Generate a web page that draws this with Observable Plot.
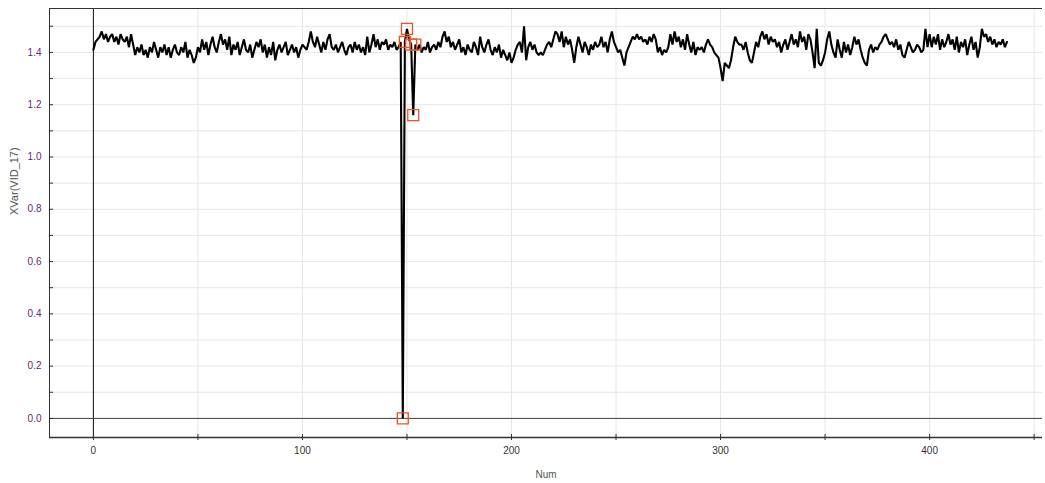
<!DOCTYPE html>
<html>
<head>
<meta charset="utf-8">
<script src="https://cdn.jsdelivr.net/npm/d3@7"></script>
<script src="https://cdn.jsdelivr.net/npm/@observablehq/plot@0.6"></script>
<style>
  html, body { margin: 0; padding: 0; background: #fff; }
  #chart svg { display: block; }
</style>
</head>
<body>
<div id="chart"></div>
<script>
// XVar(VID_17) values, index = Num (0..437)
const segA = [1.41,1.44,1.45,1.46,1.48,1.45,1.47,1.44,1.46,1.47,1.44,1.46,1.43,1.47,1.45,1.44,1.46,1.42,1.47,1.43];
const segB = [1.39,1.42,1.40,1.43,1.39,1.41,1.38,1.42,1.40,1.44,1.41,1.38,1.42,1.40,1.43,1.39,1.42,1.38,1.41,1.43,1.40,1.39,1.42,1.40,1.44,1.38,1.41,1.39,1.36,1.38,1.42];
const segC = [1.40,1.45,1.41,1.44,1.39,1.43,1.46,1.42,1.40,1.44,1.47,1.43,1.45,1.41,1.46,1.39,1.43,1.41];
const segD = [1.44,1.39,1.42,1.45,1.41,1.40,1.43,1.38,1.41,1.44,1.42,1.45,1.40,1.43,1.38,1.42,1.39,1.44,1.37,1.41,1.43,1.40,1.42,1.44,1.39,1.41,1.43,1.40,1.42,1.38];
const segE = [1.41,1.43,1.42,1.41,1.44,1.48,1.44,1.42,1.46,1.43,1.40,1.44,1.41,1.45,1.47,1.42];
const segF = [1.41,1.43,1.40,1.42,1.44,1.41,1.39,1.42,1.43,1.40,1.44,1.41,1.43,1.40,1.42,1.39,1.46,1.40,1.43,1.47,1.42,1.45,1.41,1.44];
const segG = [1.43,1.45,1.41,1.43,1.42,1.44,1.41,1.42,1.44];
const segSpike = [0.00,1.44,1.49,1.45,1.43,1.16,1.43];
const segH = [1.41,1.43,1.40,1.42,1.41,1.44,1.40,1.42,1.43,1.41,1.44,1.42,1.46,1.48,1.44];
const segI = [1.46,1.42,1.44,1.41,1.43,1.45,1.40,1.42,1.39,1.43,1.41,1.40,1.44,1.42,1.39];
const segJ = [1.46,1.42,1.40,1.43,1.45,1.41,1.39,1.42,1.40,1.43,1.38,1.41,1.39,1.37,1.40,1.36,1.38];
const segK = [1.41,1.43,1.44,1.40,1.50,1.37,1.42,1.44,1.41,1.43,1.40,1.39,1.40,1.39,1.41,1.43,1.44,1.42];
const segL = [1.45,1.48,1.47,1.44,1.48,1.42,1.46,1.43,1.45,1.41,1.36,1.42,1.46,1.43,1.40,1.44,1.42,1.39,1.43,1.41,1.44,1.42];
const segM = [1.43,1.46,1.42,1.44,1.40,1.45,1.48,1.44,1.42,1.40,1.41,1.38,1.35,1.40,1.42];
const segN = [1.44,1.46,1.45,1.47,1.45,1.46,1.44,1.45,1.43,1.46,1.44,1.47,1.45,1.40,1.42,1.39,1.41,1.40,1.42];
const segO = [1.47,1.43,1.48,1.44,1.46,1.42,1.45,1.41,1.47,1.43,1.40,1.44,1.39,1.42,1.41];
const segP = [1.42,1.40,1.43,1.45,1.43,1.42,1.40,1.39,1.38,1.34,1.29,1.36,1.35,1.34,1.37,1.42,1.46,1.44,1.43,1.43,1.41,1.44,1.40,1.37,1.36];
const segQ = [1.40,1.44,1.42,1.46,1.48,1.45,1.47,1.43,1.46,1.44,1.45,1.42,1.44,1.40,1.43,1.45,1.41,1.44];
const segR = [1.47,1.43,1.45,1.42,1.48,1.44,1.46,1.41,1.47,1.45,1.40,1.34,1.49,1.36,1.35,1.37,1.40];
const segS = [1.45,1.48,1.43,1.40,1.38,1.45,1.41,1.38,1.44,1.40,1.43,1.39,1.42,1.46,1.43,1.45,1.41,1.38,1.36];
const segT = [1.35,1.41,1.43,1.40,1.42,1.41,1.43,1.44,1.46,1.47,1.45,1.43,1.44,1.42,1.45,1.41,1.43,1.39,1.38,1.41];
const segU = [1.44,1.42,1.40,1.41,1.43,1.42,1.40,1.41,1.49,1.42,1.47,1.42,1.46,1.43,1.47,1.41,1.45,1.42,1.44];
const segV = [1.47,1.43,1.45,1.41,1.46,1.40,1.44,1.42,1.45,1.39,1.43,1.46,1.41,1.44,1.38,1.42];
const segW = [1.49,1.46,1.47,1.44,1.46,1.43,1.45,1.42,1.44,1.43,1.45,1.42,1.44];

const xvar = [].concat(segA, segB, segC, segD, segE, segF, segG, segSpike, segH, segI, segJ,
  segK, segL, segM, segN, segO, segP, segQ, segR, segS, segT, segU, segV, segW);

// highlighted (outlier) points
const markerNums = [148, 149, 150, 152, 153, 154];

// axes
const xTitle = "Num";
const yTitle = "XVar(VID_17)";
const xDomain = [-21, 454];
const yDomain = [-0.073, 1.568];
const xTickMarks = [0, 50, 100, 150, 200, 250, 300, 350, 400, 450];
const xTickLabels = [0, 100, 200, 300, 400];
const yTickMarks = [0, 0.1, 0.2, 0.3, 0.4, 0.5, 0.6, 0.7, 0.8, 0.9, 1.0, 1.1, 1.2, 1.3, 1.4, 1.5];
const yTickLabels = [0, 0.2, 0.4, 0.6, 0.8, 1.0, 1.2, 1.4];

const data = xvar.map((v, i) => ({num: i, value: v}));
const markers = markerNums.map(n => ({num: n, value: xvar[n]}));

const W = 1045, H = 483;
const mL = 49, mR = 3, mT = 8, mB = 46;
const xPerPx = (xDomain[1] - xDomain[0]) / (W - mL - mR);
const yPerPx = (yDomain[1] - yDomain[0]) / (H - mT - mB);

const chart = Plot.plot({
  width: W,
  height: H,
  marginLeft: mL,
  marginRight: mR,
  marginTop: mT,
  marginBottom: mB,
  style: {fontFamily: "'Liberation Sans', Arial, sans-serif", fontSize: "10px", background: "#fff", color: "#333"},
  x: {domain: xDomain, label: null},
  y: {domain: yDomain, label: null},
  marks: [
    Plot.gridX(xTickMarks, {stroke: "#e6e6e6", strokeOpacity: 1}),
    Plot.gridY(yTickMarks, {stroke: "#e6e6e6", strokeOpacity: 1}),
    // zero lines
    Plot.ruleX([0], {stroke: "#111", strokeWidth: 1}),
    Plot.ruleY([0], {stroke: "#444", strokeWidth: 1}),
    // frame: left, top, bottom
    Plot.ruleX([xDomain[0]], {stroke: "#333", strokeWidth: 1}),
    Plot.ruleY([yDomain[1]], {stroke: "#333", strokeWidth: 1}),
    Plot.ruleY([yDomain[0]], {stroke: "#333", strokeWidth: 1.5}),
    // tick marks
    Plot.ruleY(yTickMarks, {x1: xDomain[0], x2: xDomain[0] + 4 * xPerPx, stroke: "#333", clip: false}),
    Plot.ruleX(xTickMarks, {y1: yDomain[0] + 3 * yPerPx, y2: yDomain[0] - 3 * yPerPx, stroke: "#333", clip: false}),
    // series
    Plot.line(data, {x: "num", y: "value", stroke: "#000", strokeWidth: 2.1, strokeLinejoin: "miter"}),
    Plot.dot(markers, {x: "num", y: "value", symbol: "square", r: 6.2, stroke: "#f4511e", fill: "none", strokeWidth: 1.3}),
    // axes
    Plot.axisY(yTickLabels, {anchor: "left", tickSize: 0, tickPadding: 8, tickFormat: d => d.toFixed(1), fill: "#5e2a70", fontSize: 10, label: null}),
    Plot.axisX(xTickLabels, {anchor: "bottom", tickSize: 0, tickPadding: 9, tickFormat: d => String(d), fill: "#333", fontSize: 10, label: null}),
    Plot.text([xTitle], {frameAnchor: "bottom", dy: 40, fill: "#555", fontSize: 10}),
    Plot.text([yTitle], {frameAnchor: "left", dx: -35, dy: -8, rotate: -90, fill: "#555", fontSize: 11})
  ]
});
document.getElementById("chart").appendChild(chart);
</script>
</body>
</html>
